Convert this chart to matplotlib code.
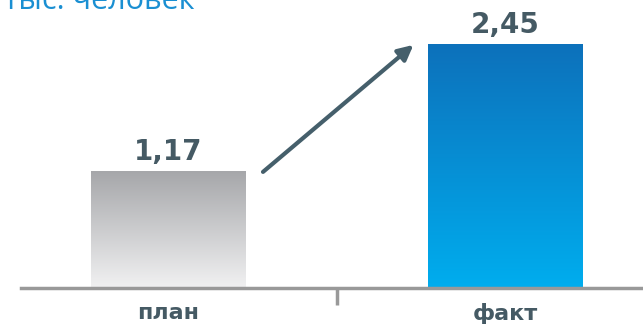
import numpy as np
import matplotlib
matplotlib.use("Agg")
import matplotlib.pyplot as plt
from matplotlib.colors import LinearSegmentedColormap

# chart data
categories = ["план", "факт"]
values = [1.17, 2.45]
value_labels = ["1,17", "2,45"]
unit_title = "тыс. человек"

text_color = "#455a64"
bar_width = 0.46
grads = [("#a6a7aa", "#f1f1f2"), ("#0d71bb", "#00adee")]

fig = plt.figure(figsize=(6.43, 3.25), dpi=100)
ax = fig.add_axes([21 / 643, 1 - 288 / 325, 622 / 643, (288 - 30) / 325])
ax.set_xlim(-0.438, 1.41)
ax.set_ylim(0, 2.6)

# bars with vertical gradients
for i, (val, (top, bottom)) in enumerate(zip(values, grads)):
    cmap = LinearSegmentedColormap.from_list(f"g{i}", [bottom, top])
    grad = np.linspace(0, 1, 256).reshape(-1, 1)
    ax.imshow(grad, cmap=cmap, aspect="auto", origin="lower",
              extent=(i - bar_width / 2, i + bar_width / 2, 0, val), zorder=2)
    ax.annotate(value_labels[i], (i, val), xytext=(0, 4), textcoords="offset points",
                ha="center", va="bottom", fontsize=20, fontweight="bold",
                color=text_color, family="DejaVu Sans")

# growth arrow between the bars
ax.annotate("", xy=(1 - bar_width / 2 - 0.042, values[1]),
            xytext=(bar_width / 2 + 0.051, values[0]),
            arrowprops=dict(arrowstyle="-|>,head_length=0.9,head_width=0.45",
                            color="#455f6b", lw=3, shrinkA=0, shrinkB=0))

for s in ["top", "left", "right"]:
    ax.spines[s].set_visible(False)
ax.spines["bottom"].set_color("#999999")
ax.spines["bottom"].set_linewidth(2.5)
ax.set_yticks([])
ax.set_xticks([0, 1])
ax.set_xticklabels(categories, fontsize=16, fontweight="bold", color=text_color)
ax.tick_params(axis="x", which="major", length=0, pad=11)
ax.set_xticks([0.5], minor=True)
ax.tick_params(axis="x", which="minor", length=12, width=2.5, color="#999999")

fig.text(4 / 643, 1 - 9 / 325, unit_title, fontsize=22, color="#1a8fd2",
         family="Open Sans", ha="left", va="baseline")

fig.savefig("out.png", dpi=100)
